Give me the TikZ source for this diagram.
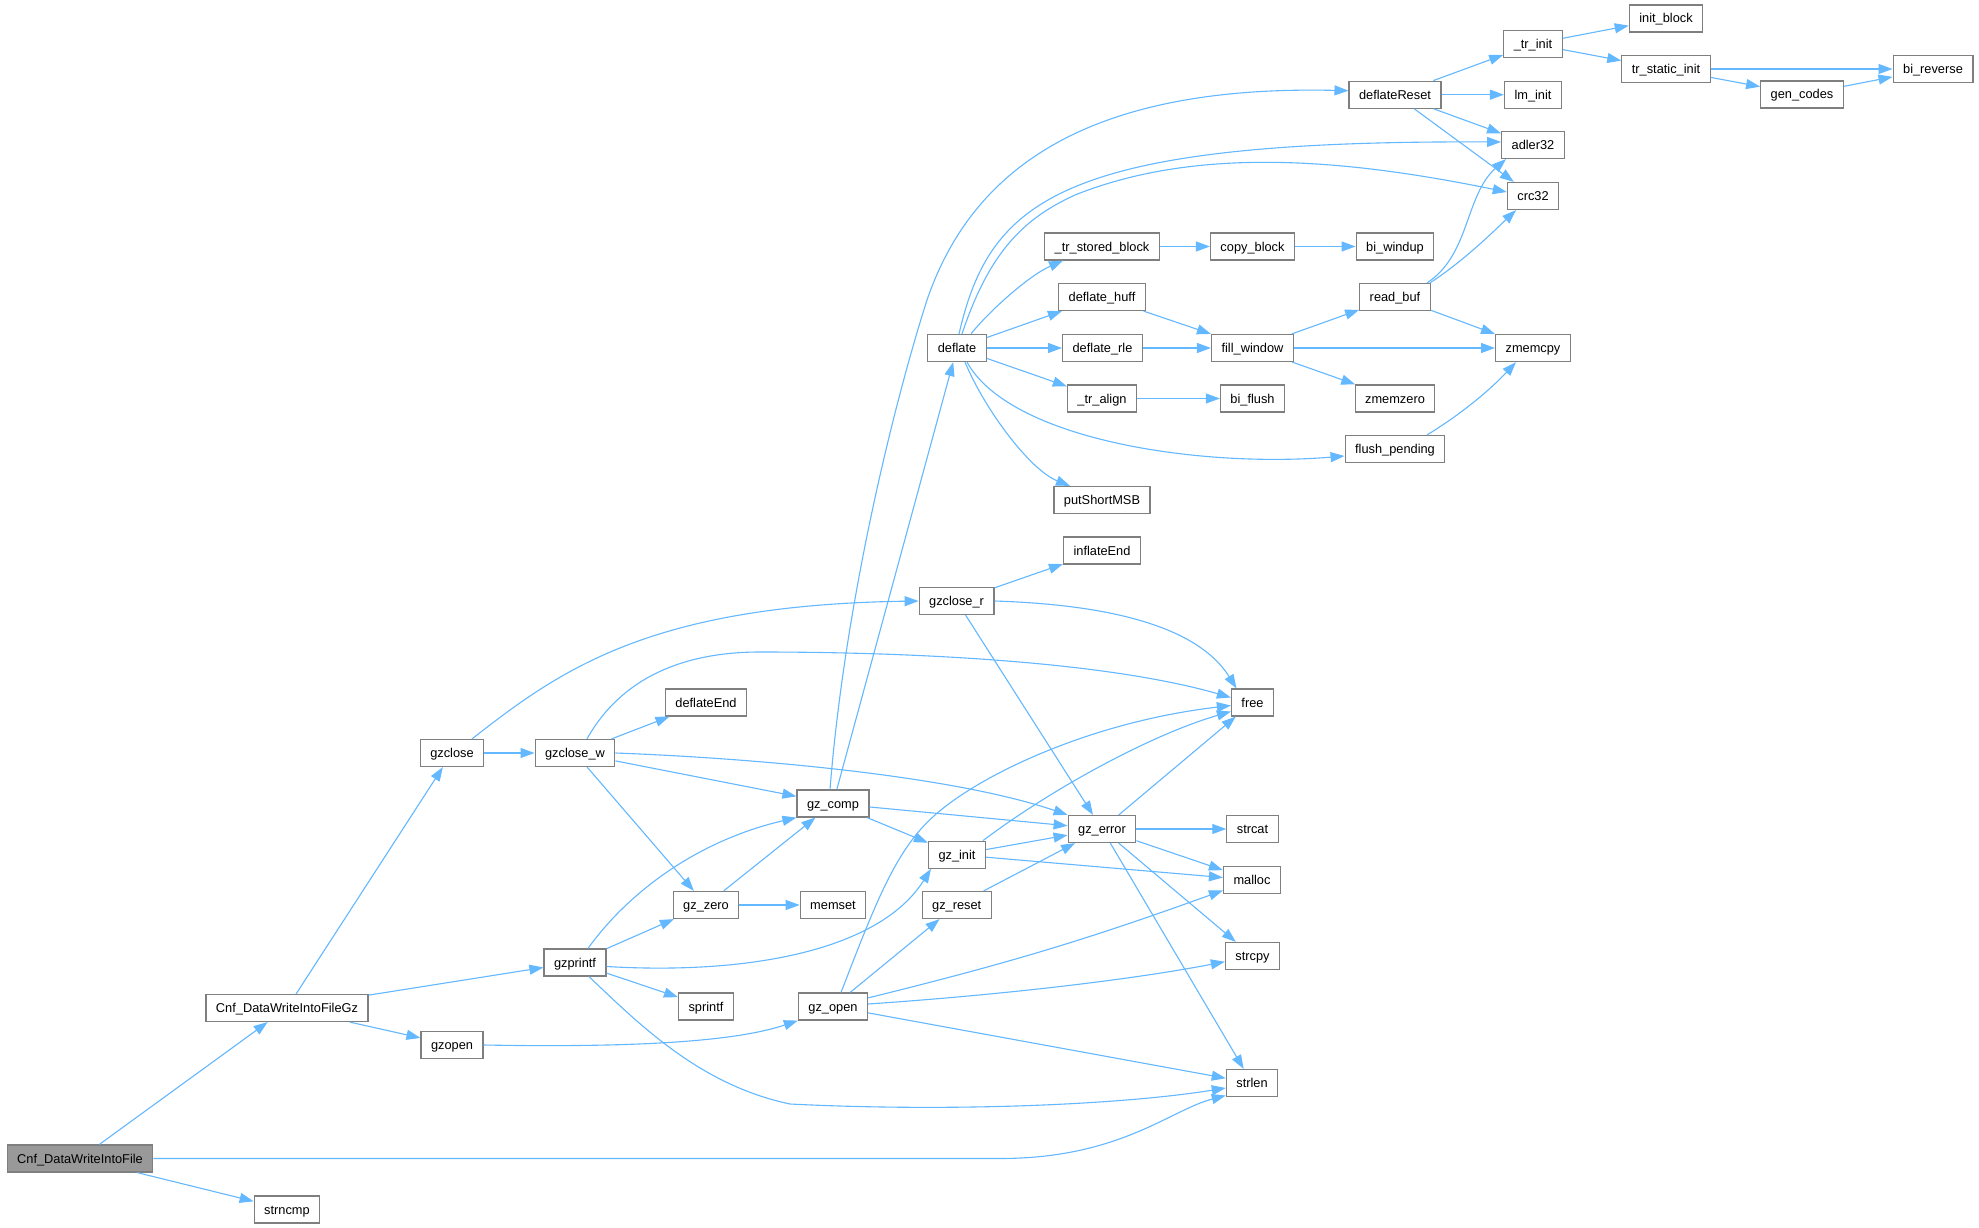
\documentclass[tikz,border=0pt]{standalone}
\usepackage{fontspec}
\setmainfont{Liberation Sans}
\usetikzlibrary{arrows.meta}
\definecolor{edgeblue}{HTML}{63B8FF}
\definecolor{nodegray}{HTML}{7F7F7F}
\definecolor{rootgray}{HTML}{999999}
\begin{document}
\begin{tikzpicture}[x=1pt,y=-1pt,
  fn/.style={draw=nodegray, fill=white, line width=1.2pt, minimum height=27pt,
    inner xsep=10pt, inner ysep=0pt, font=\fontsize{12.8}{15}\selectfont,
    text height=11pt, text depth=2pt},
  rootfn/.style={fn, fill=rootgray},
  ed/.style={draw=edgeblue, line width=1.1pt, -{Triangle[length=14pt,width=10pt]}}]
\fill[white] (0,0) rectangle (1979,1228);
\useasboundingbox (0,0) rectangle (1979,1228);
% nodes
\node[rootfn] (root) at (80,1158.5) {Cnf\_DataWriteIntoFile};
\node[fn] (gz) at (287,1008) {Cnf\_DataWriteIntoFileGz};
\node[fn] (strncmp) at (287,1209.5) {strncmp};
\node[fn] (gzclose) at (452,753) {gzclose};
\node[fn] (gzopen) at (452,1045) {gzopen};
\node[fn] (gzclosew) at (575,753) {gzclose\_w};
\node[fn] (gzprintf) at (575,962.5) {gzprintf};
\node[fn] (deflateEnd) at (706,702.5) {deflateEnd};
\node[fn] (gzzero) at (706,905) {gz\_zero};
\node[fn] (sprintf) at (706,1006.5) {sprintf};
\node[fn] (gzcomp) at (833,803.5) {gz\_comp};
\node[fn] (memset) at (833,905) {memset};
\node[fn] (gzopen2) at (833,1006.5) {gz\_open};
\node[fn] (deflate) at (957,348) {deflate};
\node[fn] (gzcloser) at (956.6,601) {gzclose\_r};
\node[fn] (gzinit) at (957,854.7) {gz\_init};
\node[fn] (gzreset) at (956.7,905) {gz\_reset};
\node[fn] (trstored) at (1102,246.5) {\_tr\_stored\_block};
\node[fn] (deflatehuff) at (1102,297) {deflate\_huff};
\node[fn] (deflaterle) at (1102.5,348) {deflate\_rle};
\node[fn] (tralign) at (1102,398.5) {\_tr\_align};
\node[fn] (putShortMSB) at (1102,500) {putShortMSB};
\node[fn] (inflateEnd) at (1102,550.5) {inflateEnd};
\node[fn] (gzerror) at (1102,829) {gz\_error};
\node[fn] (copyblock) at (1252.5,246.5) {copy\_block};
\node[fn] (fillwindow) at (1252.5,348) {fill\_window};
\node[fn] (biflush) at (1252.5,398.5) {bi\_flush};
\node[fn] (free) at (1252.5,702.5) {free};
\node[fn] (strcat) at (1252.5,829) {strcat};
\node[fn] (malloc) at (1252,880) {malloc};
\node[fn] (strcpy) at (1252.5,956) {strcpy};
\node[fn] (strlen) at (1252,1083) {strlen};
\node[fn] (deflateReset) at (1395,94.7) {deflateReset};
\node[fn] (biwindup) at (1395,246.5) {bi\_windup};
\node[fn] (readbuf) at (1395,297) {read\_buf};
\node[fn] (zmemzero) at (1395,398.5) {zmemzero};
\node[fn] (flushpending) at (1395,449) {flush\_pending};
\node[fn] (trinit) at (1533,44) {\_tr\_init};
\node[fn] (lminit) at (1533,94.7) {lm\_init};
\node[fn] (adler) at (1533,145) {adler32};
\node[fn] (crc) at (1533,196) {crc32};
\node[fn] (zmemcpy) at (1533,348) {zmemcpy};
\node[fn] (initblock) at (1666,18.5) {init\_block};
\node[fn] (trstatic) at (1666,69) {tr\_static\_init};
\node[fn] (gencodes) at (1802,94.5) {gen\_codes};
\node[fn] (bireverse) at (1933,69) {bi\_reverse};
% edges
\draw[ed] (root) -- (gz);
\draw[ed] (root.east) -- (1000,1158.5) .. controls (1120,1158.5) and (1170,1110) .. ([yshift=-12.5pt]strlen.west);
\draw[ed] (root) -- (strncmp);
\draw[ed] (gz) -- (gzclose);
\draw[ed] (gz) -- (gzopen);
\draw[ed] (gz) -- (gzprintf);
\draw[ed] ([xshift=20pt]gzclose.north) .. controls (560,670) and (650,605) .. (gzcloser.west);
\draw[ed] (gzclose) -- (gzclosew);
\draw[ed] (gzcloser.east) .. controls (1120,605) and (1200,630) .. ([xshift=-16pt]free.north);
\draw[ed] (gzcloser) -- (gzerror);
\draw[ed] (gzcloser) -- (inflateEnd);
\draw[ed] (gzclosew) -- (deflateEnd);
\draw[ed] ([xshift=12pt]gzclosew.north) .. controls (620,680) and (680,652) .. (760,652) .. controls (900,652) and (1100,660) .. ([yshift=5pt]free.west);
\draw[ed] (gzclosew) -- (gzcomp);
\draw[ed] (gzclosew.east) .. controls (750,758) and (950,775) .. (gzerror.north west);
\draw[ed] (gzclosew) -- (gzzero);
\draw[ed] (gzcomp) -- (deflate);
\draw[ed] ([xshift=-3pt]gzcomp.north) .. controls (845,600) and (895,400) .. (927,300) .. controls (975,160) and (1100,85) .. ([yshift=4pt]deflateReset.west);
\draw[ed] (gzcomp) -- (gzerror);
\draw[ed] (gzcomp) -- (gzinit);
\draw[ed] ([xshift=2pt]deflate.north) .. controls (990,200) and (1060,140) .. ([yshift=3pt]adler.west);
\draw[ed] ([xshift=5pt]deflate.north) .. controls (990,250) and (1025,218) .. (1075,195) .. controls (1200,145) and (1350,160) .. ([yshift=4pt]crc.west);
\draw[ed] ([xshift=14pt]deflate.north) .. controls (990,310) and (1030,275) .. ([xshift=-39pt]trstored.south);
\draw[ed] (deflate) -- (deflatehuff);
\draw[ed] (deflate) -- (deflaterle);
\draw[ed] (deflate) -- (tralign);
\draw[ed] ([xshift=10pt]deflate.south) .. controls (1010,440) and (1200,468) .. ([yshift=-7pt]flushpending.west);
\draw[ed] ([xshift=8pt]deflate.south) .. controls (985,410) and (1030,470) .. ([xshift=-32pt]putShortMSB.north);
\draw[ed] (deflateReset) -- (trinit);
\draw[ed] (deflateReset) -- (lminit);
\draw[ed] (deflateReset) -- (adler);
\draw[ed] (deflateReset) -- (crc);
\draw[ed] (trinit) -- (initblock);
\draw[ed] (trinit) -- (trstatic);
\draw[ed] (trstatic) -- (bireverse);
\draw[ed] (trstatic) -- (gencodes);
\draw[ed] (gencodes) -- (bireverse);
\draw[ed] (trstored) -- (copyblock);
\draw[ed] (copyblock) -- (biwindup);
\draw[ed] (deflatehuff) -- (fillwindow);
\draw[ed] (deflaterle) -- (fillwindow);
\draw[ed] (fillwindow) -- (readbuf);
\draw[ed] (fillwindow) -- (zmemcpy);
\draw[ed] (fillwindow) -- (zmemzero);
\draw[ed] ([xshift=32pt]readbuf.north) .. controls (1470,255) and (1465,195) .. ([xshift=-27pt]adler.south);
\draw[ed] ([xshift=35pt]readbuf.north) .. controls (1465,260) and (1495,230) .. ([xshift=-17pt]crc.south);
\draw[ed] (readbuf) -- (zmemcpy);
\draw[ed] (tralign) -- (biflush);
\draw[ed] ([xshift=32pt]flushpending.north) .. controls (1460,415) and (1490,390) .. ([xshift=-17pt]zmemcpy.south);
\draw[ed] (gzerror) -- (free);
\draw[ed] (gzerror) -- (malloc);
\draw[ed] (gzerror) -- (strcat);
\draw[ed] (gzerror) -- (strcpy);
\draw[ed] (gzerror) -- (strlen);
\draw[ed] ([xshift=26pt]gzinit.north) .. controls (1050,790) and (1150,735) .. ([yshift=-9pt]free.west);
\draw[ed] (gzinit) -- (gzerror);
\draw[ed] (gzinit) -- (malloc);
\draw[ed] (gzzero) -- (gzcomp);
\draw[ed] (gzzero) -- (memset);
\draw[ed] ([xshift=13pt]gzprintf.north) .. controls (630,890) and (700,840) .. (gzcomp.south west);
\draw[ed] ([yshift=-4pt]gzprintf.east) .. controls (750,975) and (880,950) .. ([xshift=-26pt]gzinit.south);
\draw[ed] (gzprintf) -- (gzzero);
\draw[ed] (gzprintf) -- (sprintf);
\draw[ed] ([xshift=14pt]gzprintf.south) .. controls (640,1025) and (700,1085) .. (790,1104) .. controls (950,1112) and (1120,1105) .. ([yshift=-5pt]strlen.west);
\draw[ed] (gzopen.east) .. controls (650,1048) and (740,1040) .. (gzopen2.south west);
\draw[ed] ([xshift=8pt]gzopen2.north) .. controls (875,905) and (895,850) .. (935,815) .. controls (980,775) and (1090,722) .. ([yshift=-3pt]free.west);
\draw[ed] (gzopen2) -- (gzreset);
\draw[ed] (gzopen2) to[bend right=3] (malloc);
\draw[ed] ([yshift=2.5pt]gzopen2.east) .. controls (1000,995) and (1130,980) .. ([yshift=-5.7pt]strcpy.west);
\draw[ed] (gzopen2) -- (strlen);
\draw[ed] (gzreset) -- (gzerror);
\end{tikzpicture}
\end{document}
